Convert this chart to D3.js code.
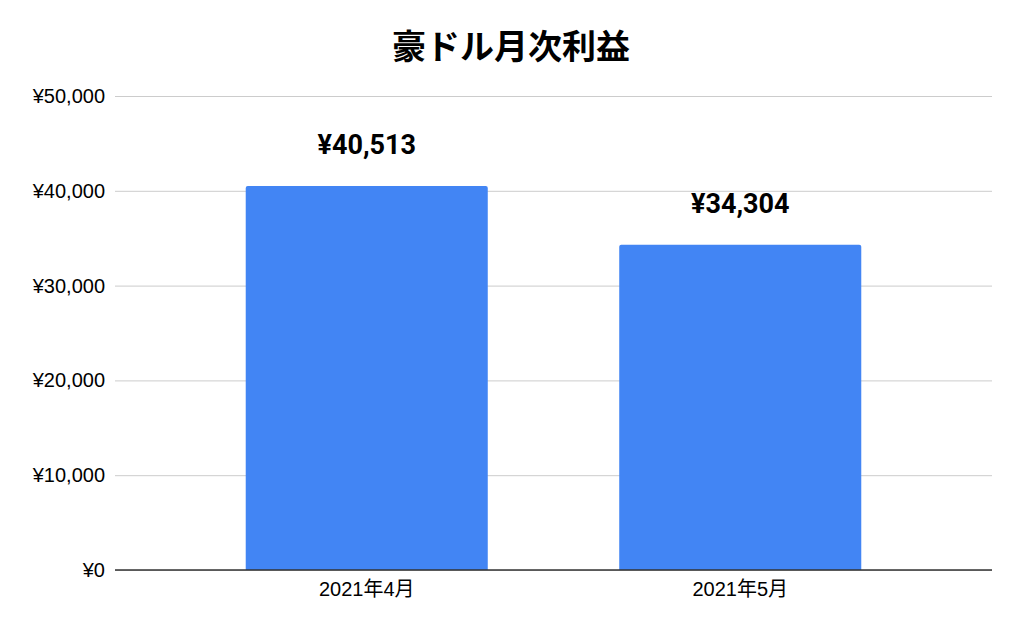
<!DOCTYPE html>
<html>
<head>
<meta charset="utf-8">
<script src="https://cdn.jsdelivr.net/npm/d3@7"></script>
<style>
  body { margin: 0; background: #fff; }
</style>
</head>
<body>
<div id="container"></div>
<script>
const months = ["2021年4月", "2021年5月"];
const profits = [40513, 34304];
const yTicks = [0, 10000, 20000, 30000, 40000, 50000];

const width = 1024, height = 633;
const margin = { top: 96, right: 32, bottom: 63, left: 115 };

const svg = d3.select("#container")
  .append("svg")
  .attr("width", width)
  .attr("height", height);

const x = d3.scaleBand()
  .domain(months)
  .range([margin.left, width - margin.right])
  .paddingInner(0.352)
  .paddingOuter(0.35);

const y = d3.scaleLinear()
  .domain([0, 50000])
  .range([height - margin.bottom, margin.top]);

const yen = d => "¥" + d3.format(",")(d);

// gridlines + y labels
svg.append("g")
  .attr("transform", `translate(${margin.left},0)`)
  .call(d3.axisLeft(y).tickValues(yTicks).tickFormat(yen)
    .tickSize(-(width - margin.left - margin.right)).tickPadding(10))
  .call(g => g.select(".domain").remove())
  .call(g => g.selectAll(".tick line").attr("stroke", "#cccccc").attr("stroke-width", 1))
  .call(g => g.selectAll(".tick text")
    .attr("fill", "#000")
    .style("font-family", "'Liberation Sans', Arial, 'Noto Sans CJK JP', sans-serif")
    .style("font-size", "20px"));

// bars
svg.selectAll("rect.bar")
  .data(months)
  .enter()
  .append("path")
  .attr("class", "bar")
  .attr("fill", "#4285f4")
  .attr("d", (d, i) => {
    const x0 = x(d), w = x.bandwidth(), y0 = y(profits[i]), y1 = y(0), r = 2;
    return `M${x0},${y1}V${y0 + r}Q${x0},${y0} ${x0 + r},${y0}H${x0 + w - r}Q${x0 + w},${y0} ${x0 + w},${y0 + r}V${y1}Z`;
  });

// baseline
svg.append("line")
  .attr("x1", margin.left)
  .attr("x2", width - margin.right)
  .attr("y1", y(0))
  .attr("y2", y(0))
  .attr("stroke", "#333")
  .attr("stroke-width", 1.5);

// x labels
svg.append("g")
  .attr("transform", `translate(0,${y(0)})`)
  .call(d3.axisBottom(x).tickSize(0).tickPadding(10))
  .call(g => g.select(".domain").remove())
  .call(g => g.selectAll(".tick text")
    .attr("fill", "#000")
    .attr("dy", "0.71em")
    .attr("y", 12)
    .style("font-family", "'Liberation Sans', Arial, 'Noto Sans CJK JP', sans-serif")
    .style("font-size", "20px"));

// value labels
svg.selectAll("text.value")
  .data(months)
  .enter()
  .append("text")
  .attr("class", "value")
  .attr("x", d => x(d) + x.bandwidth() / 2)
  .attr("y", (d, i) => y(profits[i]) - 32)
  .attr("text-anchor", "middle")
  .style("font-family", "Roboto, 'Liberation Sans', sans-serif")
  .style("font-weight", "bold")
  .style("font-size", "27px")
  .text((d, i) => yen(profits[i]));

// title
svg.append("text")
  .attr("x", 511)
  .attr("y", 59)
  .attr("text-anchor", "middle")
  .style("font-family", "'Noto Sans CJK JP', sans-serif")
  .style("font-weight", "bold")
  .style("font-size", "34px")
  .text("豪ドル月次利益");
</script>
</body>
</html>
